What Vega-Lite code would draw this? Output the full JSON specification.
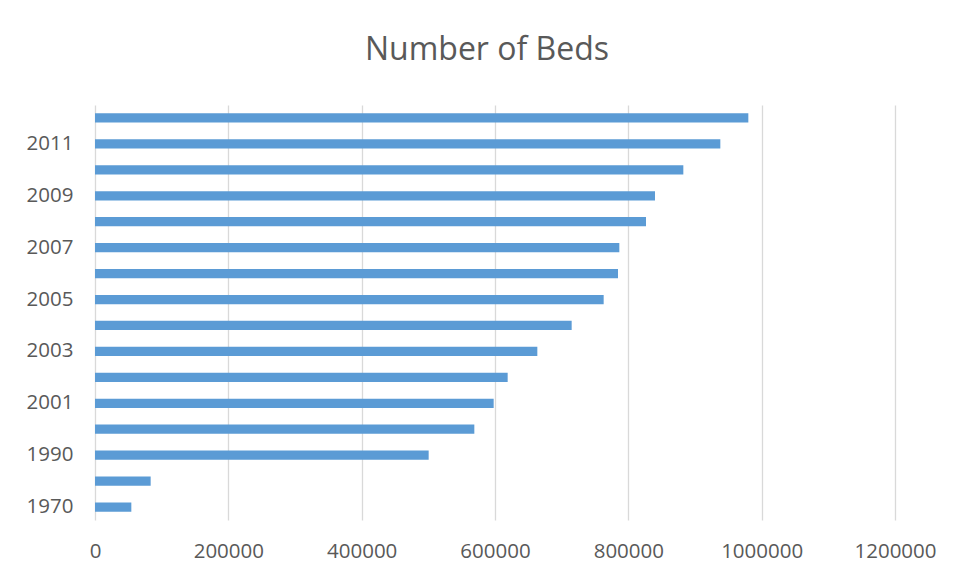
{
  "$schema": "https://vega.github.io/schema/vega-lite/v6.json",
  "width": 800,
  "height": 415,
  "autosize": {"type": "none"},
  "padding": {"left": 95, "top": 105, "right": 60, "bottom": 58},
  "background": "white",
  "config": {
    "view": {"stroke": null},
    "font": "Open Sans"
  },
  "title": {
    "text": "Number of Beds",
    "font": "Open Sans",
    "fontSize": 32,
    "fontWeight": "normal",
    "color": "#595959",
    "anchor": "middle",
    "baseline": "alphabetic",
    "offset": 13,
    "dx": -8
  },
  "data": {
    "values": [
      {"year": "1970", "beds": 54500},
      {"year": "1980", "beds": 83500},
      {"year": "1990", "beds": 500500},
      {"year": "2000", "beds": 569000},
      {"year": "2001", "beds": 598000},
      {"year": "2002", "beds": 619000},
      {"year": "2003", "beds": 663500},
      {"year": "2004", "beds": 715000},
      {"year": "2005", "beds": 763000},
      {"year": "2006", "beds": 784500},
      {"year": "2007", "beds": 786500},
      {"year": "2008", "beds": 826500},
      {"year": "2009", "beds": 840000},
      {"year": "2010", "beds": 882500},
      {"year": "2011", "beds": 938000},
      {"year": "2012", "beds": 980000}
    ]
  },
  "mark": {"type": "bar", "color": "#5B9BD5"},
  "encoding": {
    "y": {
      "field": "year",
      "type": "ordinal",
      "sort": "descending",
      "scale": {"paddingInner": 0.645, "paddingOuter": 0.3225},
      "axis": {
        "title": null,
        "values": ["1970", "1990", "2001", "2003", "2005", "2007", "2009", "2011"],
        "domain": false,
        "ticks": false,
        "grid": false,
        "labelPadding": 22,
        "labelFontSize": 20.5,
        "labelColor": "#595959",
        "labelFont": "Open Sans"
      }
    },
    "x": {
      "field": "beds",
      "type": "quantitative",
      "scale": {"domain": [0, 1200000], "nice": false},
      "axis": {
        "title": null,
        "values": [0, 200000, 400000, 600000, 800000, 1000000, 1200000],
        "format": "d",
        "domain": false,
        "ticks": false,
        "grid": true,
        "gridColor": "#d9d9d9",
        "gridWidth": 1.3,
        "labelFlush": false,
        "labelOverlap": false,
        "labelPadding": 21,
        "labelFontSize": 20.5,
        "labelColor": "#595959",
        "labelFont": "Open Sans"
      }
    }
  }
}
